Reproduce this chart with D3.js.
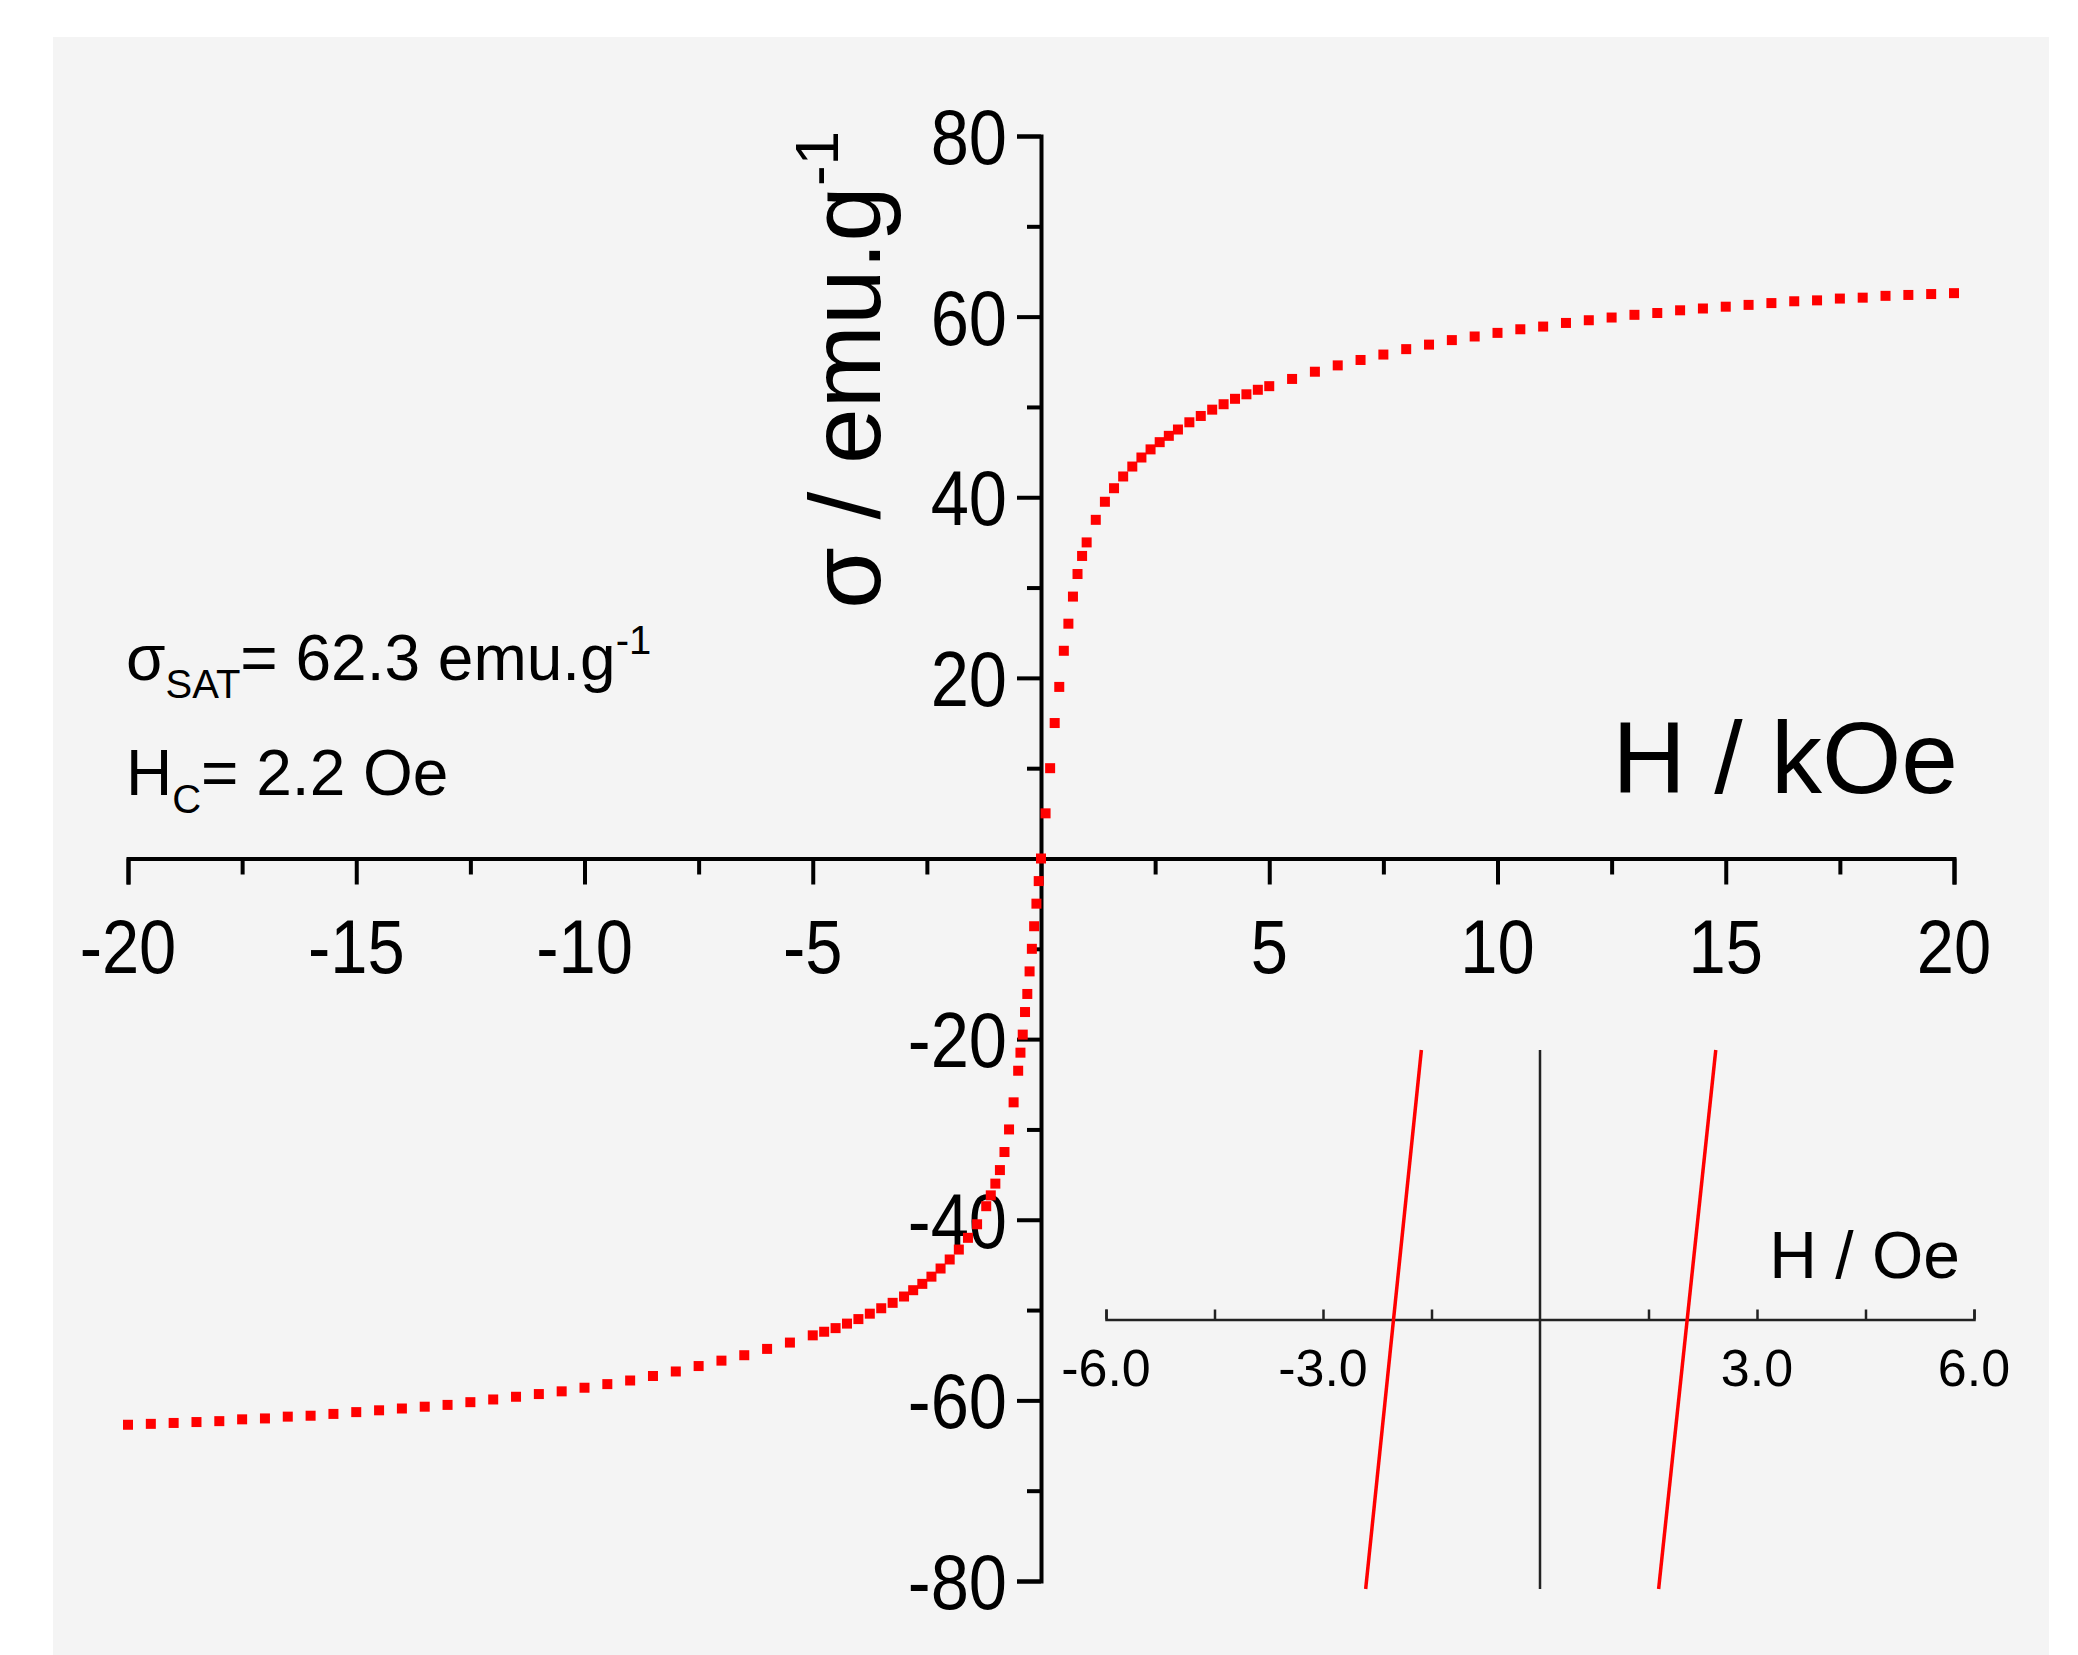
<!DOCTYPE html>
<html>
<head>
<meta charset="utf-8">
<script src="https://cdn.jsdelivr.net/npm/d3@7"></script>
<style>
body { margin: 0; background: #fff; }
text { font-family: "Liberation Sans Narrow", "Liberation Sans", Arial, sans-serif; fill: #000; }
</style>
</head>
<body>
<svg id="chart" width="2078" height="1655"></svg>
<script>
// positive field branch (kOe, emu/g)
const hPos = [0, 0.1, 0.2, 0.3, 0.4, 0.5, 0.6, 0.7, 0.8, 0.9, 1.0, 1.2, 1.4, 1.6, 1.8, 2.0, 2.2, 2.4, 2.6, 2.8, 3.0, 3.25, 3.5, 3.75, 4.0, 4.25, 4.5, 4.75, 5.0, 5.5, 6, 6.5, 7, 7.5, 8, 8.5, 9, 9.5, 10, 10.5, 11, 11.5, 12, 12.5, 13, 13.5, 14, 14.5, 15, 15.5, 16, 16.5, 17, 17.5, 18, 18.5, 19, 19.5, 20];
const sPos = [0, 5, 10, 15, 19, 23, 26, 29, 31.5, 33.5, 35, 37.5, 39.5, 41, 42.3, 43.4, 44.4, 45.3, 46.1, 46.8, 47.5, 48.3, 49, 49.7, 50.3, 50.9, 51.4, 51.9, 52.3, 53.1, 53.9, 54.6, 55.2, 55.8, 56.4, 56.9, 57.4, 57.8, 58.2, 58.6, 58.9, 59.3, 59.6, 59.9, 60.2, 60.4, 60.7, 60.9, 61.1, 61.3, 61.5, 61.7, 61.8, 62, 62.1, 62.3, 62.4, 62.5, 62.6];
// negative field branch
const hNeg = [-0.05, -0.1, -0.15, -0.2, -0.25, -0.3, -0.35, -0.4, -0.45, -0.5, -0.6, -0.7, -0.8, -0.9, -1.0, -1.1, -1.2, -1.4, -1.6, -1.8, -2.0, -2.2, -2.4, -2.6, -2.8, -3.0, -3.25, -3.5, -3.75, -4.0, -4.25, -4.5, -4.75, -5.0, -5.5, -6, -6.5, -7, -7.5, -8, -8.5, -9, -9.5, -10, -10.5, -11, -11.5, -12, -12.5, -13, -13.5, -14, -14.5, -15, -15.5, -16, -16.5, -17, -17.5, -18, -18.5, -19, -19.5, -20];
const sNeg = [-2.5, -5, -7.5, -10, -12.5, -15, -17, -19.5, -21.5, -23.5, -27, -30, -32.5, -34.5, -36, -37.3, -38.5, -40.5, -42, -43.3, -44.4, -45.4, -46.3, -47.1, -47.8, -48.5, -49.2, -49.8, -50.4, -51, -51.5, -52, -52.4, -52.8, -53.6, -54.3, -55, -55.6, -56.2, -56.8, -57.3, -57.8, -58.2, -58.6, -59, -59.3, -59.6, -59.9, -60.2, -60.5, -60.7, -60.9, -61.1, -61.3, -61.5, -61.7, -61.8, -62, -62.1, -62.3, -62.4, -62.5, -62.6, -62.7];
const xTicks = [-20, -15, -10, -5, 5, 10, 15, 20];
const yTicks = [-80, -60, -40, -20, 20, 40, 60, 80];
// inset: low-field loop (Oe)
const insetTicks = [-6.0, -3.0, 3.0, 6.0];
const loopDown = [[-2.41, -1], [-1.64, 1]];
const loopUp = [[1.64, -1], [2.43, 1]];

const svg = d3.select('#chart');
svg.append('rect').attr('x', 53).attr('y', 37).attr('width', 1996).attr('height', 1620).attr('fill', '#f4f4f4');

const x = d3.scaleLinear().domain([-20, 20]).range([128, 1954]);
const y = d3.scaleLinear().domain([-80, 80]).range([1581, 136]);

// x axis
const gx = svg.append('g').attr('transform', `translate(0,${y(0)})`)
	.call(d3.axisBottom(x).tickValues(d3.range(-20, 20.1, 2.5)).tickSize(26).tickFormat(''));
gx.selectAll('.tick line').filter((d) => d % 5 !== 0).attr('y2', 16);
gx.append('g').selectAll('text').data(xTicks).enter().append('text')
	.attr('x', (d) => x(d)).attr('y', 115).attr('text-anchor', 'middle').attr('font-size', 76)
	.attr('transform', (d) => `translate(${x(d) * 0.12},0) scale(0.88,1)`).text((d) => d);

// y axis
const gy = svg.append('g').attr('transform', `translate(${x(0)},0)`)
	.call(d3.axisLeft(y).tickValues(d3.range(-80, 80.1, 10)).tickSize(24).tickFormat(''));
gy.selectAll('.tick line').filter((d) => d % 20 !== 0).attr('x2', -14);
gy.append('g').attr('transform', 'translate(-34,0) scale(0.88,1)').selectAll('text').data(yTicks).enter().append('text')
	.attr('x', 0).attr('y', (d) => y(d) + 28).attr('text-anchor', 'end').attr('font-size', 78).text((d) => d);

svg.selectAll('.domain, .tick line').attr('stroke', '#000').attr('stroke-width', 4);

// data points
const pts = hNeg.map((h, i) => [h, sNeg[i]]).concat(hPos.map((h, i) => [h, sPos[i]]));
svg.append('g').selectAll('rect').data(pts).enter().append('rect')
	.attr('x', (d) => x(d[0]) - 5).attr('y', (d) => y(d[1]) - 5)
	.attr('width', 10).attr('height', 10).attr('fill', '#f00');

// axis titles
svg.append('text').attr('x', 1958).attr('y', 793).attr('text-anchor', 'end').attr('font-size', 102).text('H / kOe');
const yt = svg.append('text').attr('transform', 'translate(880,370) rotate(-90)').attr('text-anchor', 'middle').attr('font-size', 100);
yt.append('tspan').text('σ / emu.g');
yt.append('tspan').attr('font-size', 62).attr('dy', -42).text('-1');

// annotations
const a1 = svg.append('text').attr('x', 126).attr('y', 680).attr('font-size', 64);
a1.append('tspan').text('σ');
a1.append('tspan').attr('font-size', 40).attr('dy', 18).text('SAT');
a1.append('tspan').attr('dy', -18).text('= 62.3 emu.g');
a1.append('tspan').attr('font-size', 40).attr('dy', -26).text('-1');
const a2 = svg.append('text').attr('x', 126).attr('y', 795).attr('font-size', 64);
a2.append('tspan').text('H');
a2.append('tspan').attr('font-size', 40).attr('dy', 18).text('C');
a2.append('tspan').attr('dy', -18).text('= 2.2 Oe');

// inset
const ix = d3.scaleLinear().domain([-6, 6]).range([1106, 1974]);
const iy = d3.scaleLinear().domain([-1, 1]).range([1589, 1050]);
const gi = svg.append('g').attr('transform', `translate(0,${iy(0)})`)
	.call(d3.axisTop(ix).tickValues(d3.range(-6, 6.1, 1.5)).tickSize(10).tickFormat(''));
gi.selectAll('.domain, .tick line').attr('stroke', '#222').attr('stroke-width', 2.5);
gi.selectAll('.tick').filter((d) => d === 0).remove();
gi.selectAll('text.il').data(insetTicks).enter().append('text').attr('class', 'il')
	.attr('x', (d) => ix(d)).attr('y', 66).attr('text-anchor', 'middle').attr('font-size', 52).text((d) => d.toFixed(1));
svg.append('line').attr('x1', ix(0)).attr('x2', ix(0)).attr('y1', iy(1)).attr('y2', iy(-1))
	.attr('stroke', '#222').attr('stroke-width', 2.5);
const il = d3.line().x((d) => ix(d[0])).y((d) => iy(d[1]));
[loopDown, loopUp].forEach((l) => {
	svg.append('path').datum(l).attr('d', il).attr('stroke', '#f00').attr('stroke-width', 3.5).attr('fill', 'none');
});
svg.append('text').attr('x', 1960).attr('y', 1278).attr('text-anchor', 'end').attr('font-size', 66).text('H / Oe');
</script>
</body>
</html>
